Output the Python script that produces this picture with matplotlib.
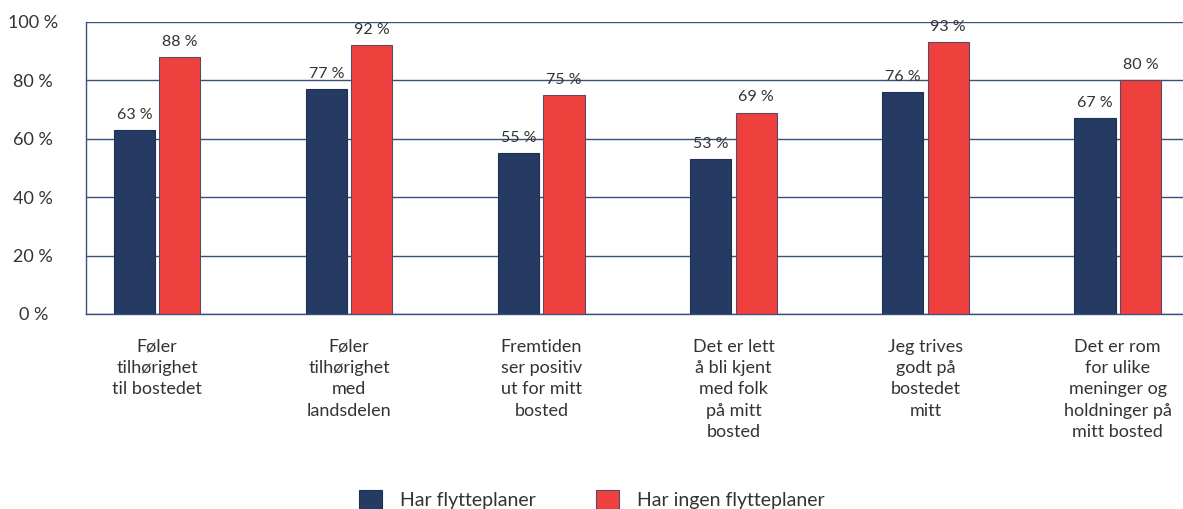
import numpy as np
import matplotlib.pyplot as plt

plt.rcParams['font.family'] = ['Lato', 'DejaVu Sans']

categories = [
    "Føler\ntilhørighet\ntil bostedet",
    "Føler\ntilhørighet\nmed\nlandsdelen",
    "Fremtiden\nser positiv\nut for mitt\nbosted",
    "Det er lett\nå bli kjent\nmed folk\npå mitt\nbosted",
    "Jeg trives\ngodt på\nbostedet\nmitt",
    "Det er rom\nfor ulike\nmeninger og\nholdninger på\nmitt bosted",
]
har_planer = [63, 77, 55, 53, 76, 67]
ingen_planer = [88, 92, 75, 69, 93, 80]
series_names = ["Har flytteplaner", "Har ingen flytteplaner"]
yticks = [0, 20, 40, 60, 80, 100]

blue = "#253B63"
red = "#EE403D"
line_col = "#3B5078"
text_col = "#333333"

fig = plt.figure(figsize=(11.83, 5.09), dpi=100)
ax = fig.add_axes([86 / 1183, 1 - 314 / 509, (1183 - 86) / 1183, (314 - 22) / 509])

x = np.arange(len(categories))
w = 0.214
off = 0.118
b1 = ax.bar(x - off, har_planer, w, color=blue, edgecolor="#1f3050", linewidth=0.8,
            label=series_names[0], zorder=3)
b2 = ax.bar(x + off, ingen_planer, w, color=red, edgecolor="#5a4a6a", linewidth=0.8,
            label=series_names[1], zorder=3)

for bars, vals in ((b1, har_planer), (b2, ingen_planer)):
    for r, v in zip(bars, vals):
        ax.text(r.get_x() + r.get_width() / 2, v + 2.8, f"{v} %", ha="center", va="bottom",
                fontsize=11.5, color=text_col)

ax.set_xlim(-0.37, 5.34)
ax.set_ylim(0, 100)
ax.set_yticks(yticks)
ax.set_yticklabels([f"{t} %" for t in yticks], fontsize=13, color=text_col)
ax.yaxis.grid(True, color=line_col, linewidth=1)
ax.set_axisbelow(True)
ax.tick_params(axis="y", length=0, pad=38)
for lab in ax.get_yticklabels():
    lab.set_horizontalalignment("center")
ax.tick_params(axis="x", length=0, pad=18)
ax.set_xticks(x)
ax.set_xticklabels(categories, fontsize=13, color=text_col, linespacing=1.4, va="top")

for s in ("top", "right"):
    ax.spines[s].set_visible(False)
ax.spines["left"].set_color(line_col)
ax.spines["bottom"].set_color(line_col)
ax.spines["left"].set_linewidth(1)
ax.spines["bottom"].set_linewidth(1)
ax.axhline(100, color=line_col, linewidth=1.2, zorder=2)

fig.legend(handles=[b1, b2], loc="lower center", bbox_to_anchor=(0.5, -0.035), ncol=2,
           frameon=False, fontsize=14, handlelength=1.2, handleheight=1.1,
           columnspacing=3.1, handletextpad=0.9, labelcolor=text_col)

fig.savefig("out.png", dpi=100)
